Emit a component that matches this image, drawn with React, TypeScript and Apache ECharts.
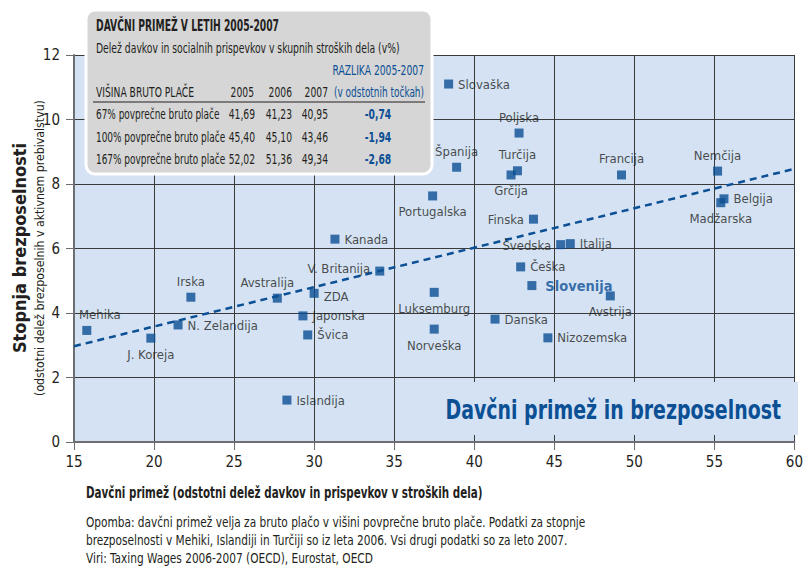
import React, { useEffect, useRef } from "react";
import * as echarts from "echarts";

// ---------- DATA ----------
const countries = [
  "Mehika", "J. Koreja", "N. Zelandija", "Irska", "Avstralija", "ZDA", "Japonska", "Švica",
  "Kanada", "V. Britanija", "Islandija", "Portugalska", "Luksemburg", "Norveška", "Slovaška",
  "Poljska", "Španija", "Turčija", "Grčija", "Francija", "Nemčija", "Belgija", "Madžarska",
  "Finska", "Švedska", "Italija", "Češka", "Slovenija", "Avstrija", "Danska", "Nizozemska",
];
const taxWedge = [
  15.8, 19.8, 21.5, 22.3, 27.7, 30.0, 29.3, 29.6,
  31.3, 34.1, 28.3, 37.4, 37.5, 37.5, 38.4,
  42.8, 38.9, 42.7, 42.3, 49.2, 55.2, 55.6, 55.4,
  43.7, 45.4, 46.0, 42.9, 43.6, 48.5, 41.3, 44.6,
];
const unemployment = [
  3.46, 3.22, 3.63, 4.49, 4.46, 4.61, 3.91, 3.32,
  6.29, 5.30, 1.30, 7.63, 4.64, 3.50, 11.10,
  9.58, 8.52, 8.41, 8.28, 8.28, 8.40, 7.54, 7.42,
  6.91, 6.12, 6.15, 5.43, 4.85, 4.53, 3.81, 3.23,
];
const trendX = [15, 60];
const trendY = [2.97, 8.47];

const xTicks = [15, 20, 25, 30, 35, 40, 45, 50, 55, 60];
const yTicks = [0, 2, 4, 6, 8, 10, 12];

const tableTitle = "DAVČNI PRIMEŽ V LETIH 2005-2007";
const tableSubtitle = "Delež davkov in socialnih prispevkov v skupnih stroških dela (v%)";
const tableDiffHead1 = "RAZLIKA 2005-2007";
const tableDiffHead2 = "(v odstotnih točkah)";
const tableRowHead = "VIŠINA BRUTO PLAČE";
const tableYears = ["2005", "2006", "2007"];
const wageLevels = ["67% povprečne bruto plače", "100% povprečne bruto plače", "167% povprečne bruto plače"];
const wedge2005 = ["41,69", "45,40", "52,02"];
const wedge2006 = ["41,23", "45,10", "51,36"];
const wedge2007 = ["40,95", "43,46", "49,34"];
const wedgeDiff = ["-0,74", "-1,94", "-2,68"];

const chartTitle = "Davčni primež in brezposelnost";
const xName = "Davčni primež (odstotni delež davkov in prispevkov v stroških dela)";
const yName = "Stopnja brezposelnosti";
const ySubName = "(odstotni delež brezposelnih v aktivnem prebivalstvu)";
const notes = [
  "Opomba: davčni primež velja za bruto plačo v višini povprečne bruto plače. Podatki za stopnje",
  "brezposelnosti v Mehiki, Islandiji in Turčiji so iz leta 2006. Vsi drugi podatki so za leto 2007.",
  "Viri: Taxing Wages 2006-2007 (OECD), Eurostat, OECD",
];

// ---------- STYLE ----------
const FONT = '"DejaVu Sans Condensed", "DejaVu Sans", sans-serif';
const DARK = "#231f20";
const BLUE = "#0b4f94";
const PLOT_BG = "#d4e2f4";

// label placement per country: [position, offsetX, offsetY]
const labelPlace: Record<string, [string, number, number]> = {
  "Mehika": ["top", 13, 0],
  "J. Koreja": ["bottom", 0, 0],
  "N. Zelandija": ["right", 0, 1],
  "Irska": ["top", 0, 0],
  "Avstralija": ["top", -10, 0],
  "ZDA": ["right", 0, 3],
  "Japonska": ["right", 0, 0],
  "Švica": ["right", 0, 0],
  "Kanada": ["right", 0, 0],
  "V. Britanija": ["left", 0, -3],
  "Islandija": ["right", 0, 0],
  "Portugalska": ["bottom", 0, 0],
  "Luksemburg": ["bottom", 0, 0],
  "Norveška": ["bottom", 0, 0],
  "Slovaška": ["right", 0, 0],
  "Poljska": ["top", 0, 0],
  "Španija": ["top", 0, 0],
  "Turčija": ["top", 0, 0],
  "Grčija": ["bottom", 0, 0],
  "Francija": ["top", 0, 0],
  "Nemčija": ["top", 0, 0],
  "Belgija": ["right", 0, 0],
  "Madžarska": ["bottom", 0, 0],
  "Finska": ["left", 0, 0],
  "Švedska": ["left", 0, 1],
  "Italija": ["right", 0, 0],
  "Češka": ["right", 0, 0],
  "Slovenija": ["right", 2, 0],
  "Avstrija": ["bottom", 0, 0],
  "Danska": ["right", 0, 0],
  "Nizozemska": ["right", 0, 0],
};

export default function App() {
  const ref = useRef<HTMLDivElement>(null);

  useEffect(() => {
    if (!ref.current) return;
    const chart = echarts.init(ref.current, null, { renderer: "svg" });

    const scatterData = countries.map((name, i) => {
      const [pos, ox, oy] = labelPlace[name];
      const isSlo = name === "Slovenija";
      return {
        name,
        value: [taxWedge[i], unemployment[i]],
        label: {
          show: true,
          formatter: name,
          position: pos,
          offset: [ox, oy],
          distance: isSlo ? 7 : 5,
          fontFamily: FONT,
          fontSize: isSlo ? 14.5 : 13,
          fontWeight: isSlo ? "bold" : "normal",
          color: isSlo ? BLUE : DARK,
        },
      };
    });

    const plotLeft = 74, plotTop = 55, plotRight = 800, plotBottom = 442;

    const tX = (t: string, x: number, y: number, opts: any = {}) => ({
      type: "text",
      x, y,
      z: 200,
      scaleX: opts.sx || 0.73,
      style: {
        text: t,
        fontFamily: FONT,
        fontSize: opts.size || 14,
        fontWeight: opts.bold ? "bold" : "normal",
        fill: opts.color || DARK,
        textAlign: opts.align || "left",
        align: opts.align || "left",
        textVerticalAlign: "middle",
        verticalAlign: "middle",
      },
    });

    const tableRowsY = [114, 137, 159];
    const tableEls: any[] = [
      {
        type: "rect",
        z: 150,
        shape: { x: 86, y: 10, width: 346, height: 164, r: 9 },
        style: { fill: "#d6d6d6", stroke: "#ffffff", lineWidth: 3 },
      },
      tX(tableTitle, 96, 26, { bold: true, size: 16, sx: 0.64 }),
      tX(tableSubtitle, 96, 48, { size: 14, sx: 0.735 }),
      tX(tableDiffHead1, 424, 70, { color: BLUE, align: "right" }),
      tX(tableRowHead, 96, 92, {}),
      tX(tableYears[0], 254, 92, { align: "right" }),
      tX(tableYears[1], 292, 92, { align: "right" }),
      tX(tableYears[2], 328, 92, { align: "right" }),
      tX(tableDiffHead2, 424, 92, { color: BLUE, align: "right", sx: 0.71 }),
      {
        type: "line",
        z: 200,
        shape: { x1: 93, y1: 102, x2: 425, y2: 102 },
        style: { stroke: DARK, lineWidth: 1 },
      },
    ];
    wageLevels.forEach((w, i) => {
      const y = tableRowsY[i];
      tableEls.push(tX(w, 96, y, { sx: 0.71 }));
      tableEls.push(tX(wedge2005[i], 255, y, { align: "right" }));
      tableEls.push(tX(wedge2006[i], 292, y, { align: "right" }));
      tableEls.push(tX(wedge2007[i], 328, y, { align: "right" }));
      tableEls.push(tX(wedgeDiff[i], 378, y, { align: "center", bold: true, color: BLUE }));
    });

    const option: any = {
      animation: false,
      backgroundColor: "#ffffff",
      grid: {
        left: plotLeft,
        top: plotTop,
        width: plotRight - plotLeft,
        height: plotBottom - plotTop,
        show: true,
        backgroundColor: PLOT_BG,
        borderWidth: 0,
      },
      xAxis: {
        type: "value",
        min: 15,
        max: 60,
        interval: 5,
        axisLine: { show: true, onZero: false, lineStyle: { color: "#6d6e71", width: 2 } },
        axisTick: { show: true, length: 8, lineStyle: { color: "#6d6e71", width: 1 } },
        splitLine: { show: true, lineStyle: { color: "#3a3a3a", width: 1 } },
        axisLabel: {
          fontFamily: FONT,
          fontSize: 15,
          color: DARK,
          margin: 12,
          formatter: (v: number) => (xTicks.includes(v) ? String(v) : ""),
        },
      },
      yAxis: {
        type: "value",
        min: 0,
        max: 12,
        interval: 2,
        axisLine: { show: true, onZero: false, lineStyle: { color: "#6d6e71", width: 2 } },
        axisTick: { show: true, length: 8, lineStyle: { color: "#6d6e71", width: 1 } },
        splitLine: { show: true, lineStyle: { color: "#3a3a3a", width: 1 } },
        axisLabel: {
          fontFamily: FONT,
          fontSize: 15,
          color: DARK,
          margin: 14,
          formatter: (v: number) => (yTicks.includes(v) ? String(v) : ""),
        },
      },
      series: [
        {
          type: "line",
          data: trendX.map((x, i) => [x, trendY[i]]),
          symbol: "none",
          lineStyle: { color: BLUE, width: 2.5, type: [7, 5] },
          z: 3,
          silent: true,
        },
        {
          type: "scatter",
          symbol: "rect",
          symbolSize: 9,
          itemStyle: { color: BLUE },
          data: scatterData,
          z: 4,
        },
      ],
      graphic: [
        {
          type: "rect",
          z: 100,
          shape: { x: 397, y: 382, width: 401, height: 53 },
          style: { fill: PLOT_BG },
        },
        {
          type: "text",
          z: 110,
          x: 781,
          y: 410,
          scaleX: 0.78,
          style: {
            text: chartTitle,
            fontFamily: FONT,
            fontSize: 27,
            fontWeight: "bold",
            fill: BLUE,
            textAlign: "right",
            align: "right",
            textVerticalAlign: "middle",
            verticalAlign: "middle",
          },
        },
        ...tableEls,
        {
          type: "text",
          z: 110,
          x: 19,
          y: 248,
          rotation: Math.PI / 2,
          style: {
            text: yName,
            fontFamily: FONT,
            fontSize: 18,
            fontWeight: "bold",
            fill: DARK,
            textAlign: "center",
            align: "center",
            textVerticalAlign: "middle",
            verticalAlign: "middle",
          },
        },
        {
          type: "text",
          z: 110,
          x: 39,
          y: 248,
          rotation: Math.PI / 2,
          scaleX: 0.94,
          style: {
            text: ySubName,
            fontFamily: FONT,
            fontSize: 13,
            fill: DARK,
            textAlign: "center",
            align: "center",
            textVerticalAlign: "middle",
            verticalAlign: "middle",
          },
        },
        {
          type: "text",
          z: 110,
          x: 86,
          y: 492,
          scaleX: 0.72,
          style: {
            text: xName,
            fontFamily: FONT,
            fontSize: 16,
            fontWeight: "bold",
            fill: DARK,
            textAlign: "left",
            align: "left",
            textVerticalAlign: "middle",
            verticalAlign: "middle",
          },
        },
        ...notes.map((n, i) => ({
          type: "text",
          z: 110,
          x: 86,
          y: 522 + i * 18,
          scaleX: 0.87,
          style: {
            text: n,
            fontFamily: FONT,
            fontSize: 13.5,
            fill: DARK,
            textAlign: "left",
            align: "left",
            textVerticalAlign: "middle",
            verticalAlign: "middle",
          },
        })),
      ],
    };

    chart.setOption(option);
    return () => chart.dispose();
  }, []);

  return <div ref={ref} style={{ width: 806, height: 570, position: "absolute", left: 0, top: 0 }} />;
}
